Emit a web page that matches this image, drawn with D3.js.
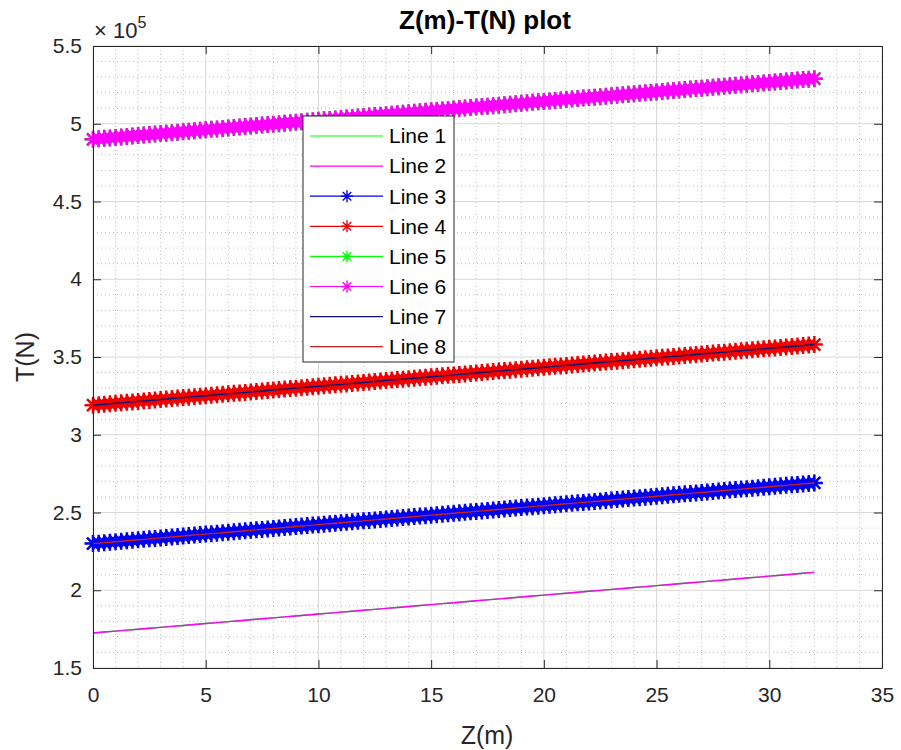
<!DOCTYPE html>
<html><head><meta charset="utf-8">
<script src="https://cdn.jsdelivr.net/npm/d3@7"></script>
<style>body{margin:0;background:#fff}svg{display:block;font-family:"Liberation Sans",Arial,Helvetica,sans-serif}</style>
</head><body><svg id="c" width="901" height="750"></svg>
<script>
// ---- data (T in N, Z in m) ----
const zCoarse=[0,0.5,1,1.5,2,2.5,3,3.5,4,4.5,5,5.5,6,6.5,7,7.5,8,8.5,9,9.5,10,10.5,11,11.5,12,12.5,13,13.5,14,14.5,15,15.5,16,16.5,17,17.5,18,18.5,19,19.5,20,20.5,21,21.5,22,22.5,23,23.5,24,24.5,25,25.5,26,26.5,27,27.5,28,28.5,29,29.5,30,30.5,31,31.5,32];
const zFine=[0,0.25,0.5,0.75,1,1.25,1.5,1.75,2,2.25,2.5,2.75,3,3.25,3.5,3.75,4,4.25,4.5,4.75,
5,5.25,5.5,5.75,6,6.25,6.5,6.75,7,7.25,7.5,7.75,8,8.25,8.5,8.75,9,9.25,9.5,9.75,
10,10.25,10.5,10.75,11,11.25,11.5,11.75,12,12.25,12.5,12.75,13,13.25,13.5,13.75,14,14.25,14.5,14.75,
15,15.25,15.5,15.75,16,16.25,16.5,16.75,17,17.25,17.5,17.75,18,18.25,18.5,18.75,19,19.25,19.5,19.75,
20,20.25,20.5,20.75,21,21.25,21.5,21.75,22,22.25,22.5,22.75,23,23.25,23.5,23.75,24,24.25,24.5,24.75,
25,25.25,25.5,25.75,26,26.25,26.5,26.75,27,27.25,27.5,27.75,28,28.25,28.5,28.75,29,29.25,29.5,29.75,
30,30.25,30.5,30.75,31,31.25,31.5,31.75,32];
const tLow=[172500,173109,173719,174328,174938,175547,176156,176766,177375,177984,
178594,179203,179813,180422,181031,181641,182250,182859,183469,184078,
184688,185297,185906,186516,187125,187734,188344,188953,189563,190172,
190781,191391,192000,192609,193219,193828,194438,195047,195656,196266,
196875,197484,198094,198703,199313,199922,200531,201141,201750,202359,
202969,203578,204188,204797,205406,206016,206625,207234,207844,208453,
209063,209672,210281,210891,211500];
const tBlue=[230000,230305,230609,230914,231219,231523,231828,232133,232438,232742,
233047,233352,233656,233961,234266,234570,234875,235180,235484,235789,
236094,236398,236703,237008,237313,237617,237922,238227,238531,238836,
239141,239445,239750,240055,240359,240664,240969,241273,241578,241883,
242188,242492,242797,243102,243406,243711,244016,244320,244625,244930,
245234,245539,245844,246148,246453,246758,247063,247367,247672,247977,
248281,248586,248891,249195,249500,249805,250109,250414,250719,251023,
251328,251633,251938,252242,252547,252852,253156,253461,253766,254070,
254375,254680,254984,255289,255594,255898,256203,256508,256813,257117,
257422,257727,258031,258336,258641,258945,259250,259555,259859,260164,
260469,260773,261078,261383,261688,261992,262297,262602,262906,263211,
263516,263820,264125,264430,264734,265039,265344,265648,265953,266258,
266563,266867,267172,267477,267781,268086,268391,268695,269000];
const tRed=[319000,319305,319609,319914,320219,320523,320828,321133,321438,321742,
322047,322352,322656,322961,323266,323570,323875,324180,324484,324789,
325094,325398,325703,326008,326313,326617,326922,327227,327531,327836,
328141,328445,328750,329055,329359,329664,329969,330273,330578,330883,
331188,331492,331797,332102,332406,332711,333016,333320,333625,333930,
334234,334539,334844,335148,335453,335758,336063,336367,336672,336977,
337281,337586,337891,338195,338500,338805,339109,339414,339719,340023,
340328,340633,340938,341242,341547,341852,342156,342461,342766,343070,
343375,343680,343984,344289,344594,344898,345203,345508,345813,346117,
346422,346727,347031,347336,347641,347945,348250,348555,348859,349164,
349469,349773,350078,350383,350688,350992,351297,351602,351906,352211,
352516,352820,353125,353430,353734,354039,354344,354648,354953,355258,
355563,355867,356172,356477,356781,357086,357391,357695,358000];
const tTop=[490000,490305,490609,490914,491219,491523,491828,492133,492438,492742,
493047,493352,493656,493961,494266,494570,494875,495180,495484,495789,
496094,496398,496703,497008,497313,497617,497922,498227,498531,498836,
499141,499445,499750,500055,500359,500664,500969,501273,501578,501883,
502188,502492,502797,503102,503406,503711,504016,504320,504625,504930,
505234,505539,505844,506148,506453,506758,507063,507367,507672,507977,
508281,508586,508891,509195,509500,509805,510109,510414,510719,511023,
511328,511633,511938,512242,512547,512852,513156,513461,513766,514070,
514375,514680,514984,515289,515594,515898,516203,516508,516813,517117,
517422,517727,518031,518336,518641,518945,519250,519555,519859,520164,
520469,520773,521078,521383,521688,521992,522297,522602,522906,523211,
523516,523820,524125,524430,524734,525039,525344,525648,525953,526258,
526563,526867,527172,527477,527781,528086,528391,528695,529000];
const seriesNames=["Line 1","Line 2","Line 3","Line 4","Line 5","Line 6","Line 7","Line 8"];
const seriesX=[zCoarse,zCoarse,zFine,zFine,zFine,zFine,zFine,zFine];
const seriesData=[tLow,tLow,tBlue,tRed,tTop,tTop,tRed,tBlue];
const seriesColors=["#00ff00","#ff00ff","#0000f0","#f00000","#00ff00","#ff00ff","#10106e","#d02020"];
const seriesMarker=[false,false,true,true,true,true,false,false];
const xTicks=[0,5,10,15,20,25,30,35];
const xTickLabels=["0","5","10","15","20","25","30","35"];
const yTicks=[150000,200000,250000,300000,350000,400000,450000,500000,550000];
const yTickLabels=["1.5","2","2.5","3","3.5","4","4.5","5","5.5"];
const titleText="Z(m)-T(N) plot", xLabel="Z(m)", yLabel="T(N)";

// ---- layout ----
const L=93,R=882,T=46,B=668;
const svg=d3.select("#c");
svg.append("rect").attr("width",901).attr("height",750).attr("fill","#fff");
const x=d3.scaleLinear().domain([0,35]).range([L,R]);
const y=d3.scaleLinear().domain([150000,550000]).range([B,T]);
const axisCol="#262626";

// grid
const xMinor=d3.range(0,35.001,1).filter(v=>v%5!==0);
const yMinor=d3.range(150000,550001,10000).filter(v=>v%50000!==0);
const g=svg.append("g");
g.selectAll(".xm").data(xMinor).join("line").attr("x1",d=>x(d)).attr("x2",d=>x(d)).attr("y1",T).attr("y2",B)
 .attr("stroke","#bdbdbd").attr("stroke-width",1).attr("stroke-dasharray","1,3");
g.selectAll(".ym").data(yMinor).join("line").attr("y1",d=>y(d)).attr("y2",d=>y(d)).attr("x1",L).attr("x2",R)
 .attr("stroke","#bdbdbd").attr("stroke-width",1).attr("stroke-dasharray","1,3");
g.selectAll(".xg").data(xTicks).join("line").attr("x1",d=>x(d)).attr("x2",d=>x(d)).attr("y1",T).attr("y2",B)
 .attr("stroke","#d8d8d8").attr("stroke-width",1);
g.selectAll(".yg").data(yTicks).join("line").attr("y1",d=>y(d)).attr("y2",d=>y(d)).attr("x1",L).attr("x2",R)
 .attr("stroke","#d8d8d8").attr("stroke-width",1);

function starPath(cx,cy,r){const d=r*0.7071;
 return `M${cx-r},${cy}H${cx+r}M${cx},${cy-r}V${cy+r}M${cx-d},${cy-d}L${cx+d},${cy+d}M${cx-d},${cy+d}L${cx+d},${cy-d}`;}

const plot=svg.append("g");
seriesNames.forEach((nm,k)=>{
  const data=seriesData[k], xs=seriesX[k], col=seriesColors[k];
  const line=d3.line().x((d,i)=>x(xs[i])).y(d=>y(d));
  plot.append("path").attr("d",line(data)).attr("fill","none").attr("stroke",col).attr("stroke-width",1.4);
  if(seriesMarker[k]){
    plot.append("g").selectAll("path").data(data).join("path")
      .attr("d",(d,i)=>starPath(x(xs[i]),y(d),8.5)).attr("stroke",col).attr("stroke-width",2.5).attr("fill","none");
  }
});

// axes (inward ticks on all sides)
function styleAxis(sel){sel.select(".domain").attr("stroke",axisCol).attr("stroke-width",1);
 sel.selectAll(".tick line").attr("stroke",axisCol).attr("stroke-width",1);
 sel.selectAll("text").attr("fill",axisCol).attr("font-size",21).attr("font-family","Liberation Sans, Arial, sans-serif");}
svg.append("g").attr("transform",`translate(0,${B})`)
 .call(d3.axisBottom(x).tickValues(xTicks).tickFormat((d,i)=>xTickLabels[i]).tickSize(-8).tickSizeOuter(0).tickPadding(19)).call(styleAxis);
svg.append("g").attr("transform",`translate(0,${T})`)
 .call(d3.axisTop(x).tickValues(xTicks).tickFormat("").tickSize(-8).tickSizeOuter(0)).call(styleAxis);
svg.append("g").attr("transform",`translate(${L},0)`)
 .call(d3.axisLeft(y).tickValues(yTicks).tickFormat((d,i)=>yTickLabels[i]).tickSize(-8).tickSizeOuter(0).tickPadding(11)).call(styleAxis);
svg.append("g").attr("transform",`translate(${R},0)`)
 .call(d3.axisRight(y).tickValues(yTicks).tickFormat("").tickSize(-8).tickSizeOuter(0)).call(styleAxis);

// exponent
const ex=svg.append("text").attr("x",94).attr("y",38).attr("fill",axisCol).attr("font-size",22);
ex.append("tspan").text("\u00d7 10");
ex.append("tspan").attr("dy",-10).attr("font-size",16).text("5");

// labels
svg.append("text").attr("x",485).attr("y",29).attr("text-anchor","middle").attr("font-weight","bold")
 .attr("font-size",26).attr("fill","#000").text(titleText);
svg.append("text").attr("x",487).attr("y",744).attr("text-anchor","middle").attr("font-size",25).attr("fill",axisCol).text(xLabel);
svg.append("text").attr("transform","translate(34,357) rotate(-90)").attr("text-anchor","middle").attr("font-size",25).attr("fill",axisCol).text(yLabel);

// legend
const lg=svg.append("g");
lg.append("rect").attr("x",303).attr("y",116).attr("width",151).attr("height",246).attr("fill","#fff").attr("stroke",axisCol).attr("stroke-width",1);
seriesNames.forEach((nm,k)=>{
  const cy=136+k*30.1, col=seriesColors[k];
  lg.append("line").attr("x1",310).attr("x2",383).attr("y1",cy).attr("y2",cy).attr("stroke",col).attr("stroke-width",1.2);
  if(seriesMarker[k]) lg.append("path").attr("d",starPath(347,cy,6)).attr("stroke",col).attr("stroke-width",1.4).attr("fill","none");
  lg.append("text").attr("x",389).attr("y",cy).attr("dy","0.35em").attr("font-size",21).attr("fill","#000").text(nm);
});
</script></body></html>
